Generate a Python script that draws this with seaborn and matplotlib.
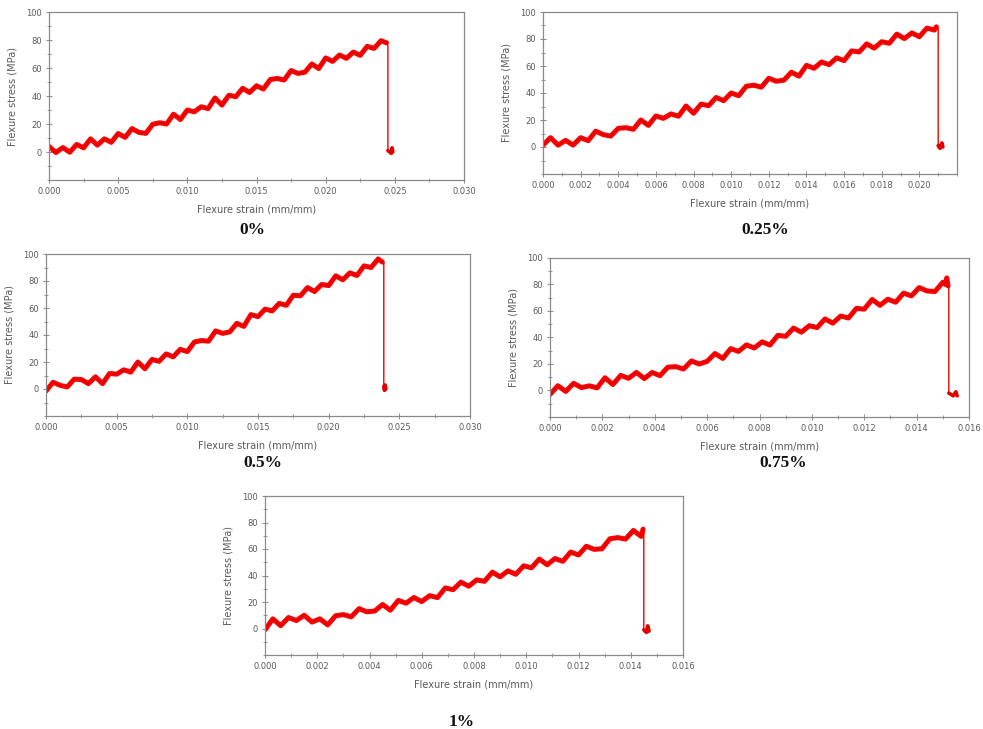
import matplotlib
matplotlib.use("Agg")
import matplotlib.pyplot as plt
from matplotlib.ticker import MultipleLocator, FixedLocator, FormatStrFormatter
import seaborn as sns
import pandas as pd

sns.set_style("white")
plt.rcParams['font.family'] = ['DejaVu Sans']

# ---------------- data ----------------
labels = ["0%", "0.25%", "0.5%", "0.75%", "1%"]

# loading part of each record
strain_0 = [0.0000, 0.0005, 0.0010, 0.0015, 0.0020, 0.0025, 0.0030, 0.0035, 0.0040, 0.0045,
            0.0050, 0.0055, 0.0060, 0.0065, 0.0070, 0.0075, 0.0080, 0.0085, 0.0090, 0.0095,
            0.0100, 0.0105, 0.0110, 0.0115, 0.0120, 0.0125, 0.0130, 0.0135, 0.0140, 0.0145,
            0.0150, 0.0155, 0.0160, 0.0165, 0.0170, 0.0175, 0.0180, 0.0185, 0.0190, 0.0195,
            0.0200, 0.0205, 0.0210, 0.0215, 0.0220, 0.0225, 0.0230, 0.0235, 0.0240, 0.0244]
stress_0 = [4.0, -0.4, 3.2, -0.2, 5.4, 3.0, 9.4, 4.9, 9.4, 6.9,
            13.2, 10.5, 16.7, 14.0, 13.3, 19.8, 20.9, 20.0, 27.0, 23.2,
            30.0, 28.7, 32.3, 31.0, 38.6, 33.5, 40.5, 39.5, 45.5, 42.5,
            47.3, 45.0, 51.8, 52.5, 51.4, 58.2, 56.1, 57.0, 62.9, 59.6,
            67.2, 64.7, 69.3, 66.9, 71.4, 69.0, 75.5, 74.0, 79.5, 78.0]

strain_025 = [0.0000, 0.0004, 0.0008, 0.0012, 0.0016, 0.0020, 0.0024, 0.0028, 0.0032, 0.0036,
              0.0040, 0.0044, 0.0048, 0.0052, 0.0056, 0.0060, 0.0064, 0.0068, 0.0072, 0.0076,
              0.0080, 0.0084, 0.0088, 0.0092, 0.0096, 0.0100, 0.0104, 0.0108, 0.0112, 0.0116,
              0.0120, 0.0124, 0.0128, 0.0132, 0.0136, 0.0140, 0.0144, 0.0148, 0.0152, 0.0156,
              0.0160, 0.0164, 0.0168, 0.0172, 0.0176, 0.0180, 0.0184, 0.0188, 0.0192, 0.0196,
              0.0200, 0.0204, 0.0208, 0.0209]
stress_025 = [1.4, 6.9, 1.4, 4.9, 1.4, 6.9, 4.7, 11.7, 9.2, 8.1,
              13.8, 14.3, 13.1, 20.0, 16.0, 23.0, 21.2, 24.5, 22.8, 30.4,
              25.0, 31.8, 30.6, 36.7, 34.3, 40.0, 38.0, 45.0, 45.8, 44.3,
              50.9, 48.7, 49.5, 55.4, 52.5, 60.5, 58.3, 63.0, 61.0, 66.0,
              64.0, 71.2, 70.4, 76.4, 73.2, 78.0, 76.8, 83.6, 80.3, 84.5,
              81.7, 88.1, 86.6, 89.0]

strain_05 = [0.0000, 0.0005, 0.0010, 0.0015, 0.0020, 0.0025, 0.0030, 0.0035, 0.0040, 0.0045,
             0.0050, 0.0055, 0.0060, 0.0065, 0.0070, 0.0075, 0.0080, 0.0085, 0.0090, 0.0095,
             0.0100, 0.0105, 0.0110, 0.0115, 0.0120, 0.0125, 0.0130, 0.0135, 0.0140, 0.0145,
             0.0150, 0.0155, 0.0160, 0.0165, 0.0170, 0.0175, 0.0180, 0.0185, 0.0190, 0.0195,
             0.0200, 0.0205, 0.0210, 0.0215, 0.0220, 0.0225, 0.0230, 0.0235, 0.0238]
stress_05 = [-1.5, 5.0, 2.7, 1.5, 7.3, 7.0, 4.0, 9.0, 4.0, 11.5,
             11.0, 14.2, 12.5, 20.0, 15.0, 21.9, 20.5, 26.0, 23.8, 29.4,
             27.7, 34.8, 35.9, 35.4, 43.0, 41.2, 42.3, 48.6, 46.4, 55.1,
             53.6, 59.2, 57.8, 63.4, 62.0, 69.5, 69.0, 75.1, 72.2, 77.4,
             76.6, 83.8, 80.9, 86.0, 84.1, 91.2, 90.0, 96.3, 94.0]

strain_075 = [0.0000, 0.0003, 0.0006, 0.0009, 0.0012, 0.0015, 0.0018, 0.0021, 0.0024, 0.0027,
              0.0030, 0.0033, 0.0036, 0.0039, 0.0042, 0.0045, 0.0048, 0.0051, 0.0054, 0.0057,
              0.0060, 0.0063, 0.0066, 0.0069, 0.0072, 0.0075, 0.0078, 0.0081, 0.0084, 0.0087,
              0.0090, 0.0093, 0.0096, 0.0099, 0.0102, 0.0105, 0.0108, 0.0111, 0.0114, 0.0117,
              0.0120, 0.0123, 0.0126, 0.0129, 0.0132, 0.0135, 0.0138, 0.0141, 0.0144, 0.0147,
              0.0150, 0.0151, 0.01515, 0.0152]
stress_075 = [-3.0, 3.6, -0.7, 5.4, 2.2, 3.5, 2.0, 9.6, 4.5, 11.4,
              9.2, 13.6, 9.0, 13.6, 11.2, 17.6, 18.0, 16.2, 22.3, 20.0,
              22.0, 27.9, 24.2, 31.6, 29.5, 34.4, 32.1, 36.7, 34.3, 41.6,
              40.9, 47.1, 44.0, 48.9, 47.5, 54.0, 50.8, 56.2, 54.7, 62.0,
              61.4, 68.7, 64.3, 68.9, 66.6, 73.5, 71.4, 77.7, 75.1, 74.7,
              81.7, 80.0, 85.0, 79.0]

strain_1 = [0.0000, 0.0003, 0.0006, 0.0009, 0.0012, 0.0015, 0.0018, 0.0021, 0.0024, 0.0027,
            0.0030, 0.0033, 0.0036, 0.0039, 0.0042, 0.0045, 0.0048, 0.0051, 0.0054, 0.0057,
            0.0060, 0.0063, 0.0066, 0.0069, 0.0072, 0.0075, 0.0078, 0.0081, 0.0084, 0.0087,
            0.0090, 0.0093, 0.0096, 0.0099, 0.0102, 0.0105, 0.0108, 0.0111, 0.0114, 0.0117,
            0.0120, 0.0123, 0.0126, 0.0129, 0.0132, 0.0135, 0.0138, 0.0141, 0.0144, 0.01447]
stress_1 = [-1.0, 7.3, 2.1, 8.3, 6.0, 10.0, 4.8, 7.3, 2.7, 9.6,
            10.5, 8.8, 15.0, 12.6, 13.2, 18.1, 13.8, 21.2, 19.1, 23.4,
            20.3, 24.8, 23.3, 30.6, 29.3, 35.0, 31.9, 36.7, 35.6, 42.5,
            39.0, 43.5, 40.9, 47.3, 45.8, 52.4, 48.1, 52.8, 50.7, 57.7,
            55.5, 62.1, 59.7, 60.2, 67.7, 68.6, 67.5, 74.0, 69.5, 75.0]

# fracture drop from the peak
drop_strain_0 = [0.0244, 0.0245, 0.0245]
drop_stress_0 = [78.0, 76.0, 1.0]
drop_strain_025 = [0.0209, 0.0210, 0.0210]
drop_stress_025 = [89.0, 88.0, 1.0]
drop_strain_05 = [0.0238, 0.0239, 0.0239]
drop_stress_05 = [94.0, 93.0, 2.0]
drop_strain_075 = [0.0152, 0.01523, 0.01523]
drop_stress_075 = [79.0, 80.0, -2.0]
drop_strain_1 = [0.01447, 0.0145, 0.0145]
drop_stress_1 = [75.0, 73.0, -1.0]

# small residue recorded after the break
res_strain_0 = [0.0245, 0.02475, 0.0248, 0.02485]
res_stress_0 = [1.0, -1.0, 3.0, 0.0]
res_strain_025 = [0.0210, 0.0211, 0.0212, 0.02125]
res_stress_025 = [1.0, -1.0, 3.0, 0.0]
res_strain_05 = [0.0239, 0.02395, 0.0240, 0.02405]
res_stress_05 = [2.0, -1.0, 3.0, 0.0]
res_strain_075 = [0.01523, 0.0154, 0.0155, 0.01555]
res_stress_075 = [-2.0, -4.0, -1.0, -4.0]
res_strain_1 = [0.0145, 0.0146, 0.01465, 0.0147]
res_stress_1 = [-1.0, -3.0, 2.0, -2.0]

strains = [strain_0, strain_025, strain_05, strain_075, strain_1]
stresses = [stress_0, stress_025, stress_05, stress_075, stress_1]
drop_strains = [drop_strain_0, drop_strain_025, drop_strain_05, drop_strain_075, drop_strain_1]
drop_stresses = [drop_stress_0, drop_stress_025, drop_stress_05, drop_stress_075, drop_stress_1]
res_strains = [res_strain_0, res_strain_025, res_strain_05, res_strain_075, res_strain_1]
res_stresses = [res_stress_0, res_stress_025, res_stress_05, res_stress_075, res_stress_1]

x_max = [0.030, 0.022, 0.030, 0.016, 0.016]
x_major_ticks = [
    [0.000, 0.005, 0.010, 0.015, 0.020, 0.025, 0.030],
    [0.000, 0.002, 0.004, 0.006, 0.008, 0.010, 0.012, 0.014, 0.016, 0.018, 0.020],
    [0.000, 0.005, 0.010, 0.015, 0.020, 0.025, 0.030],
    [0.000, 0.002, 0.004, 0.006, 0.008, 0.010, 0.012, 0.014, 0.016],
    [0.000, 0.002, 0.004, 0.006, 0.008, 0.010, 0.012, 0.014, 0.016],
]
x_minor = [0.0025, 0.001, 0.0025, 0.001, 0.001]

# ---------------- layout ----------------
W, H = 983, 729
fig = plt.figure(figsize=(W / 100, H / 100), dpi=100)

boxes_px = [(49, 12, 464, 180), (543, 12, 957, 174), (46, 254, 470, 416),
            (550, 258, 969, 417), (265, 496, 683, 655)]
title_px = [(252, 230), (765, 230), (263, 463), (783, 463), (462, 722)]

frame_col = "#8a8a8a"
text_col = "#5a5a5a"

for i in range(5):
    l, t, r, b = boxes_px[i]
    ax = fig.add_axes([l / W, 1 - b / H, (r - l) / W, (b - t) / H])
    df = pd.DataFrame({"strain": strains[i], "stress": stresses[i]})
    dfd = pd.DataFrame({"strain": drop_strains[i], "stress": drop_stresses[i]})
    dfr = pd.DataFrame({"strain": res_strains[i], "stress": res_stresses[i]})
    # broad bright band of the noisy record
    sns.lineplot(data=df, x="strain", y="stress", ax=ax, sort=False, estimator=None,
                 color="#ff0000", linewidth=3.6, solid_joinstyle='round',
                 solid_capstyle='round')
    # darker speckled core
    sns.lineplot(data=df, x="strain", y="stress", ax=ax, sort=False, estimator=None,
                 color="#d00000", linewidth=0.6)
    # thin fracture drop
    sns.lineplot(data=dfd, x="strain", y="stress", ax=ax, sort=False, estimator=None,
                 color="#ee0000", linewidth=1.0)
    # residue blob
    sns.lineplot(data=dfr, x="strain", y="stress", ax=ax, sort=False, estimator=None,
                 color="#e00000", linewidth=2.6, solid_joinstyle='round',
                 solid_capstyle='round')
    ax.set_xlim(0, x_max[i])
    ax.set_ylim(-20, 100)
    ax.xaxis.set_major_locator(FixedLocator(x_major_ticks[i]))
    ax.xaxis.set_minor_locator(MultipleLocator(x_minor[i]))
    ax.xaxis.set_major_formatter(FormatStrFormatter('%.3f'))
    ax.set_yticks([0, 20, 40, 60, 80, 100])
    ax.yaxis.set_minor_locator(MultipleLocator(10))
    ax.tick_params(axis='both', which='major', direction='inout', length=4, width=0.7,
                   colors=frame_col, labelcolor=text_col, labelsize=6, pad=3)
    ax.tick_params(axis='both', which='minor', direction='inout', length=2.5, width=0.6,
                   colors=frame_col)
    ax.tick_params(bottom=True, left=True, which='both')
    for s in ax.spines.values():
        s.set_color(frame_col)
        s.set_linewidth(0.9)
    ax.set_xlabel("Flexure strain (mm/mm)", fontsize=7, color=text_col, labelpad=6)
    ax.set_ylabel("Flexure stress (MPa)", fontsize=7, color=text_col, labelpad=6)
    tx, ty = title_px[i]
    fig.text(tx / W, 1 - ty / H, labels[i], ha='center', va='center',
             fontsize=12.5, fontweight='bold', family='Liberation Serif', color='#111111')

fig.savefig("out.png", dpi=100, facecolor='white')
